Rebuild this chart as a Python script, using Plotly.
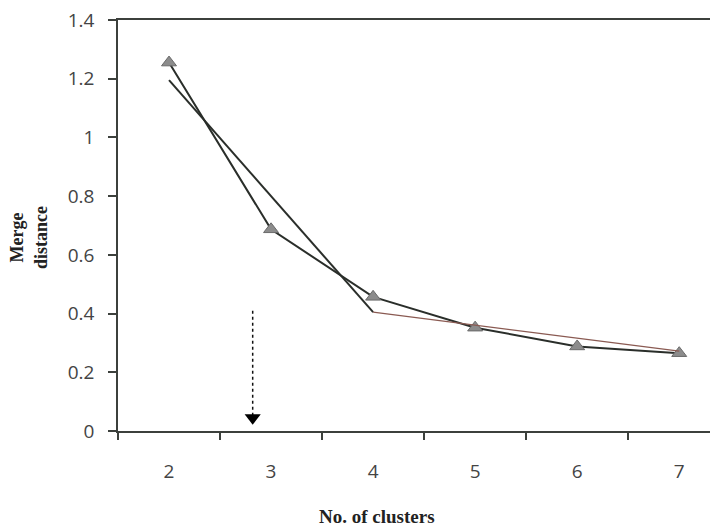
import plotly.graph_objects as go

clusters = [2, 3, 4, 5, 6, 7]
tick_labels = ["2", "3", "4", "5", "6", "7"]
merge_distance = [1.255, 0.687, 0.457, 0.352, 0.288, 0.265]

fit_steep_x = [2, 4]
fit_steep_y = [1.195, 0.405]
fit_flat_x = [4, 5, 6, 7]
fit_flat_y = [0.405, 0.36, 0.315, 0.272]

arrow_x = 2.82
arrow_top = 0.41
arrow_head = 0.045

y_ticks = [0, 0.2, 0.4, 0.6, 0.8, 1, 1.2, 1.4]
y_tick_text = ["0", "0.2", "0.4", "0.6", "0.8", "1", "1.2", "1.4"]
boundaries = [1.5, 2.5, 3.5, 4.5, 5.5, 6.5, 7.5]

fig = go.Figure()

fig.add_trace(go.Scatter(
    x=clusters, y=merge_distance, mode="lines+markers",
    line=dict(color="#2a2e2a", width=2),
    marker=dict(symbol="triangle-up", size=13, color="#8c8c8c",
                line=dict(color="#6a6a6a", width=1)),
    showlegend=False))

fig.add_trace(go.Scatter(
    x=fit_steep_x, y=fit_steep_y, mode="lines",
    line=dict(color="#2a2e2a", width=2), showlegend=False))

fig.add_trace(go.Scatter(
    x=fit_flat_x, y=fit_flat_y, mode="lines",
    line=dict(color="#8a5a52", width=1.2), showlegend=False))

fig.add_trace(go.Scatter(
    x=[arrow_x, arrow_x], y=[arrow_top, arrow_head], mode="lines",
    line=dict(color="#111111", width=1.5, dash="dot"), showlegend=False))

fig.add_trace(go.Scatter(
    x=[arrow_x], y=[arrow_head], mode="markers",
    marker=dict(symbol="triangle-down", size=14, color="#000000"),
    showlegend=False))

fig.update_layout(
    width=710, height=521,
    margin=dict(l=110, r=0, t=12, b=98),
    plot_bgcolor="white", paper_bgcolor="white",
    font=dict(family="Open Sans, Liberation Sans, sans-serif", color="#444444", size=19),
    xaxis=dict(
        range=[1.5, 7.38], tickvals=clusters, ticktext=tick_labels,
        ticks="", showgrid=False, zeroline=False, automargin=False,
        showline=True, linecolor="#3c403c", linewidth=1.5, mirror=True,
        ticklabelstandoff=22, ticklabeloverflow="allow",
        minor=dict(tickvals=boundaries, ticks="outside", ticklen=7,
                   tickcolor="#3c403c", tickwidth=1.5, showgrid=False),
    ),
    yaxis=dict(
        range=[0, 1.4], tickvals=y_ticks, ticktext=y_tick_text,
        ticks="outside", ticklen=8, tickcolor="#3c403c", tickwidth=1.5,
        showgrid=False, zeroline=False, automargin=False,
        showline=True, linecolor="#3c403c", linewidth=1.5,
        ticklabelstandoff=10, ticklabeloverflow="allow",
    ),
    annotations=[
        dict(text="<b>Merge<br>distance</b>", textangle=-90,
             xref="paper", yref="paper", x=-0.148, y=0.47,
             xanchor="center", yanchor="middle", showarrow=False,
             font=dict(family="Liberation Serif, Times New Roman, serif",
                       size=18, color="#222222")),
        dict(text="<b>No. of clusters</b>",
             xref="paper", yref="paper", x=0.432, y=-0.207,
             xanchor="center", yanchor="middle", showarrow=False,
             font=dict(family="Liberation Serif, Times New Roman, serif",
                       size=19, color="#222222")),
    ],
)

fig.write_html("out.html")
